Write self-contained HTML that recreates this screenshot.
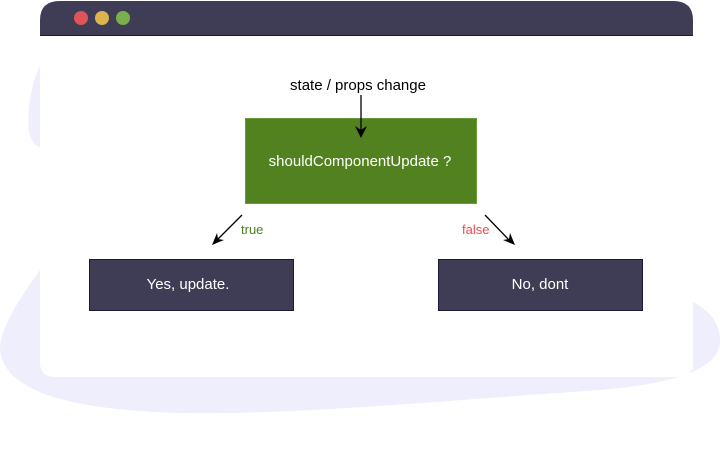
<!DOCTYPE html>
<html><head><style>
html,body{margin:0;padding:0;background:#fff;width:720px;height:462px;overflow:hidden}
</style></head><body>
<svg width="720" height="462" viewBox="0 0 720 462" xmlns="http://www.w3.org/2000/svg" font-family="Liberation Sans, sans-serif">
<path d="M40 66 C30 85 26 120 30 135 C32 142 36 146 40 147 Z" fill="#eeeefd"/>
<path d="M40 270 C15 305 0 330 0 350 C5 395 80 410 180 413 C300 415 450 400 600 390 C690 382 720 365 720 340 C720 320 705 308 693 302 L693 370 Z" fill="#eeeefd"/>
<path d="M40 35 L693 35 L693 362 Q693 377 678 377 L55 377 Q40 377 40 362 Z" fill="#fff"/>
<path d="M40 35 L40 20 Q40 1 60 1 L673 1 Q693 1 693 20 L693 35 Z" fill="#3f3d56"/>
<line x1="40" y1="35.5" x2="693" y2="35.5" stroke="#1c1a3a" stroke-width="1"/>
<circle cx="81" cy="18" r="7" fill="#dd5459"/>
<circle cx="102" cy="18" r="7" fill="#dcb44f"/>
<circle cx="123" cy="18" r="7" fill="#79b04c"/>
<text x="358" y="90" font-size="15" text-anchor="middle" fill="#000">state / props change</text>
<rect x="245.5" y="118.5" width="231" height="85" fill="#52821f" stroke="#6a9a3a"/>
<line x1="361" y1="95" x2="361" y2="132" stroke="#000" stroke-width="1.3"/>
<path d="M355 126 L361 138 L367 126 L361 130 Z" fill="#000"/>
<text x="360" y="166" font-size="15" text-anchor="middle" fill="#fff">shouldComponentUpdate ?</text>
<line x1="242" y1="215" x2="216" y2="241" stroke="#000" stroke-width="1.3"/>
<path d="M212 245 L217 233 L218 239 L224 240 Z" fill="#000"/>
<line x1="485" y1="215" x2="510" y2="241" stroke="#000" stroke-width="1.3"/>
<path d="M515 245 L503 240 L509 239 L510 233 Z" fill="#000"/>
<text x="241" y="234" font-size="13" fill="#4e7f1d">true</text>
<text x="462" y="234" font-size="13" fill="#f2484d">false</text>
<rect x="89.5" y="259.5" width="204" height="51" fill="#3f3d56" stroke="#1c1a3a"/>
<text x="188" y="289" font-size="15" text-anchor="middle" fill="#fff">Yes, update.</text>
<rect x="438.5" y="259.5" width="204" height="51" fill="#3f3d56" stroke="#1c1a3a"/>
<text x="540" y="289" font-size="15" text-anchor="middle" fill="#fff">No, dont</text>
</svg>
</body></html>
